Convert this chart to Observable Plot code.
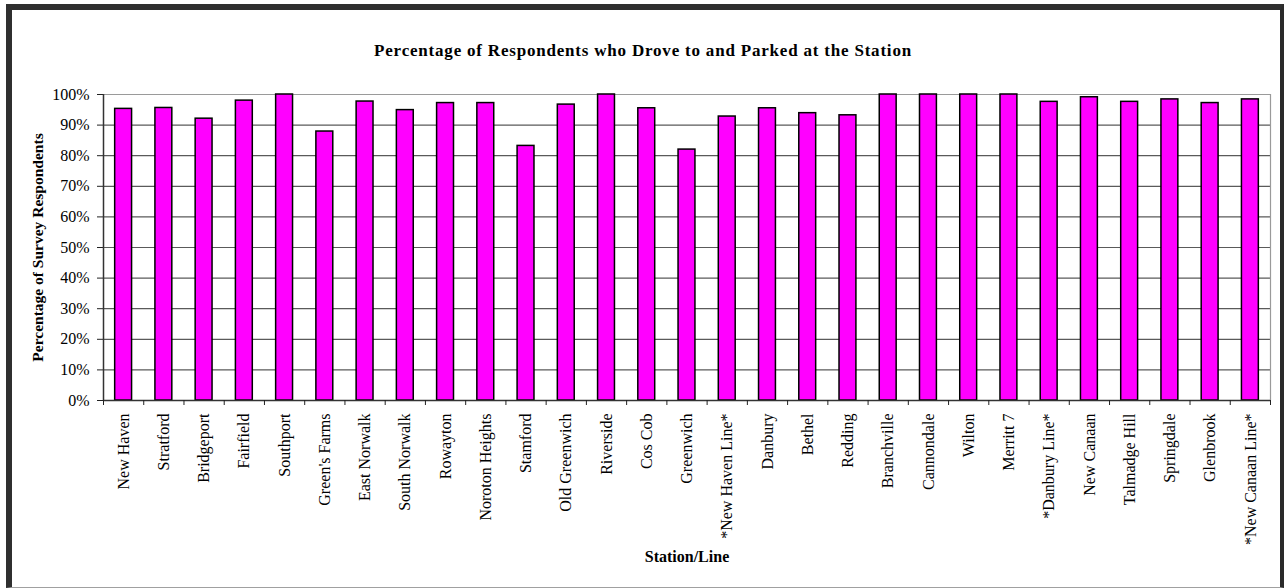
<!DOCTYPE html>
<html>
<head>
<meta charset="utf-8">
<script src="https://cdn.jsdelivr.net/npm/d3@7"></script>
<script src="https://cdn.jsdelivr.net/npm/@observablehq/plot@0.6"></script>
<style>
  html, body { margin: 0; padding: 0; background: #fff; }
  #wrap { position: relative; width: 1285px; height: 588px; overflow: hidden; background: #fff; }
  #wrap svg { position: absolute; left: 0; top: 0; }
  #border {
    position: absolute; left: 6px; top: 4px; width: 1278px; height: 584px;
    box-sizing: border-box;
    border-top: 6px solid #2f2f2f; border-left: 6px solid #2f2f2f;
    border-right: 4px solid #2a2a2a; border-bottom: 1px solid #a0a0a0;
    pointer-events: none;
  }
</style>
</head>
<body>
<div id="wrap"><div id="border"></div></div>
<script>
// Stations and line totals, in survey order
const stations = [
  "New Haven", "Stratford", "Bridgeport", "Fairfield", "Southport", "Green's Farms",
  "East Norwalk", "South Norwalk", "Rowayton", "Noroton Heights", "Stamford",
  "Old Greenwich", "Riverside", "Cos Cob", "Greenwich", "*New Haven Line*",
  "Danbury", "Bethel", "Redding", "Branchville", "Cannondale", "Wilton", "Merritt 7",
  "*Danbury Line*", "New Canaan", "Talmadge Hill", "Springdale", "Glenbrook",
  "*New Canaan Line*"
];

// Share of respondents who drove and parked (%)
const droveParked = [
  95.3, 95.6, 92.1, 98.0, 100, 87.9,
  97.7, 94.9, 97.2, 97.2, 83.2,
  96.7, 100, 95.5, 82.0, 92.8,
  95.5, 93.9, 93.2, 100, 100, 100, 100,
  97.6, 99.1, 97.6, 98.4, 97.2,
  98.4
];

// Value axis ticks (%)
const yTicks = [0, 10, 20, 30, 40, 50, 60, 70, 80, 90, 100];

const titleText = "Percentage of Respondents who Drove to and Parked at the Station";
const yTitle = "Percentage of Survey Respondents";
const xTitle = "Station/Line";

const rows = stations.map((name, i) => ({i, name, value: droveParked[i]}));
const n = stations.length;
const serif = "'Liberation Serif', 'Times New Roman', serif";

const chart = Plot.plot({
  width: 1285,
  height: 588,
  marginLeft: 103,
  marginRight: 15,
  marginTop: 94,
  marginBottom: 188,
  x: {domain: [0, n], axis: null},
  y: {domain: [0, 100], axis: null},
  style: {fontFamily: serif, fontSize: "16px", color: "black", background: "transparent"},
  marks: [
    // gridlines
    Plot.ruleY(yTicks.filter(v => v > 0 && v < 100), {stroke: "#5a5a5a", strokeWidth: 1.2}),
    Plot.ruleY([100], {stroke: "#9a9a9a", strokeWidth: 1.2}),
    Plot.ruleX([n], {stroke: "#9a9a9a", strokeWidth: 1.2}),
    // bars
    Plot.rectY(rows, {
      x1: d => d.i + 0.29, x2: d => d.i + 0.71, y1: 0, y2: "value",
      fill: "#ff00ff", stroke: "#000", strokeWidth: 1.5
    }),
    // value axis
    Plot.axisY({
      ticks: yTicks, tickSize: 6, tickPadding: 8, label: null,
      tickFormat: d => d + "%", fontSize: 16, stroke: "#222"
    }),
    Plot.ruleX([0], {stroke: "#333", strokeWidth: 1.5}),
    Plot.ruleY([0], {stroke: "#333", strokeWidth: 1.5}),
    // category separators below the axis
    Plot.axisX({ticks: d3.range(n + 1), tickSize: 5, tickFormat: () => "", label: null, stroke: "#222"}),
    // category labels
    Plot.axisX({
      ticks: d3.range(n).map(i => i + 0.5), tickSize: 0, tickPadding: 13, label: null,
      tickFormat: v => stations[Math.floor(v)], tickRotate: -90, fontSize: 16
    }),
    // titles
    Plot.text([titleText], {
      frameAnchor: "top", dx: -44, dy: -51,
      fontWeight: "bold", fontSize: 17
    }),
    Plot.text([yTitle], {
      frameAnchor: "left", textAnchor: "middle", dx: -65, rotate: -90,
      fontWeight: "bold", fontSize: 15.5
    }),
    Plot.text([xTitle], {
      frameAnchor: "bottom", dy: 161,
      fontWeight: "bold", fontSize: 16
    })
  ]
});

// slightly open tracking on the chart title
d3.select(chart).selectAll("text")
  .filter(function() { return this.textContent === titleText; })
  .attr("letter-spacing", "0.8px");

document.getElementById("wrap").prepend(chart);
</script>
</body>
</html>
